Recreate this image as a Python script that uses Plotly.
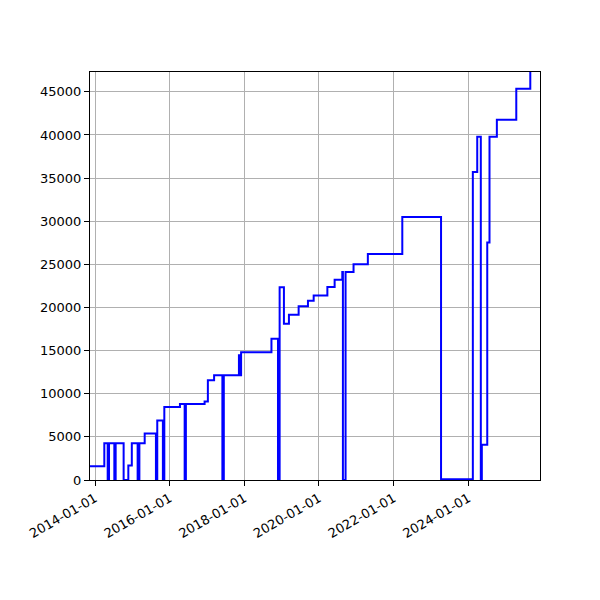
import plotly.graph_objects as go

# step data (steps-post)
dates = [
    "2013-11-13", "2014-04-02", "2014-05-05", "2014-05-18", "2014-07-09",
    "2014-07-22", "2014-10-08", "2014-11-23", "2014-12-27", "2015-02-22",
    "2015-03-11", "2015-05-02", "2015-08-20", "2015-09-02", "2015-10-27",
    "2015-11-10", "2016-04-11", "2016-05-27", "2016-06-08", "2016-12-08",
    "2017-01-09", "2017-03-11", "2017-05-31", "2017-06-14", "2017-11-09",
    "2017-11-21", "2017-11-30", "2018-09-23", "2018-11-26", "2018-12-12",
    "2019-01-23", "2019-03-13", "2019-06-16", "2019-09-15", "2019-11-10",
    "2020-03-23", "2020-06-02", "2020-08-16", "2020-08-22", "2020-09-17",
    "2020-12-04", "2021-04-23", "2022-03-26", "2023-04-09", "2024-02-14",
    "2024-03-28", "2024-05-02", "2024-05-12", "2024-07-04", "2024-07-26",
    "2024-10-06", "2025-04-14", "2025-08-29",
]
values = [
    1600, 4250, 0, 4250, 0,
    4250, 0, 1680, 4250, 0,
    4250, 5400, 0, 6900, 0,
    8450, 8820, 0, 8820, 9100,
    11550, 12130, 0, 12130, 14450,
    12130, 14800, 16380, 0, 22350,
    18120, 19170, 20130, 20790, 21400,
    22370, 23220, 24100, 0, 24100,
    25000, 26200, 30480, 100, 35700,
    39800, 0, 4100, 27540, 39800,
    41750, 45350, 49000,
]

x_range = ["2013-11-13", "2025-12-02"]
y_range = [0, 47300]

fig = go.Figure()
fig.add_trace(go.Scatter(
    x=dates, y=values, mode="lines",
    line=dict(color="#0000ff", width=2, shape="hv"),
    showlegend=False,
))

axis_style = dict(
    showline=True, linecolor="black", linewidth=1, mirror=True,
    showgrid=True, gridcolor="#b0b0b0", gridwidth=1,
    ticks="outside", ticklen=5, tickcolor="black",
    zeroline=False, automargin=False,
    tickfont=dict(family="DejaVu Sans", size=13, color="black"),
)

fig.update_xaxes(
    type="date", range=x_range, tick0="2014-01-01", dtick="M24",
    tickformat="%Y-%m-%d", tickangle=-30, **axis_style,
)
fig.update_yaxes(
    range=y_range, dtick=5000, tickformat="d", **axis_style,
)

# the page body adds 8px around the plot, so margins are offset by that
fig.update_layout(
    width=600, height=600,
    margin=dict(l=82, r=68, t=64, b=128),
    paper_bgcolor="white", plot_bgcolor="white",
)

fig.write_html("out.html")
